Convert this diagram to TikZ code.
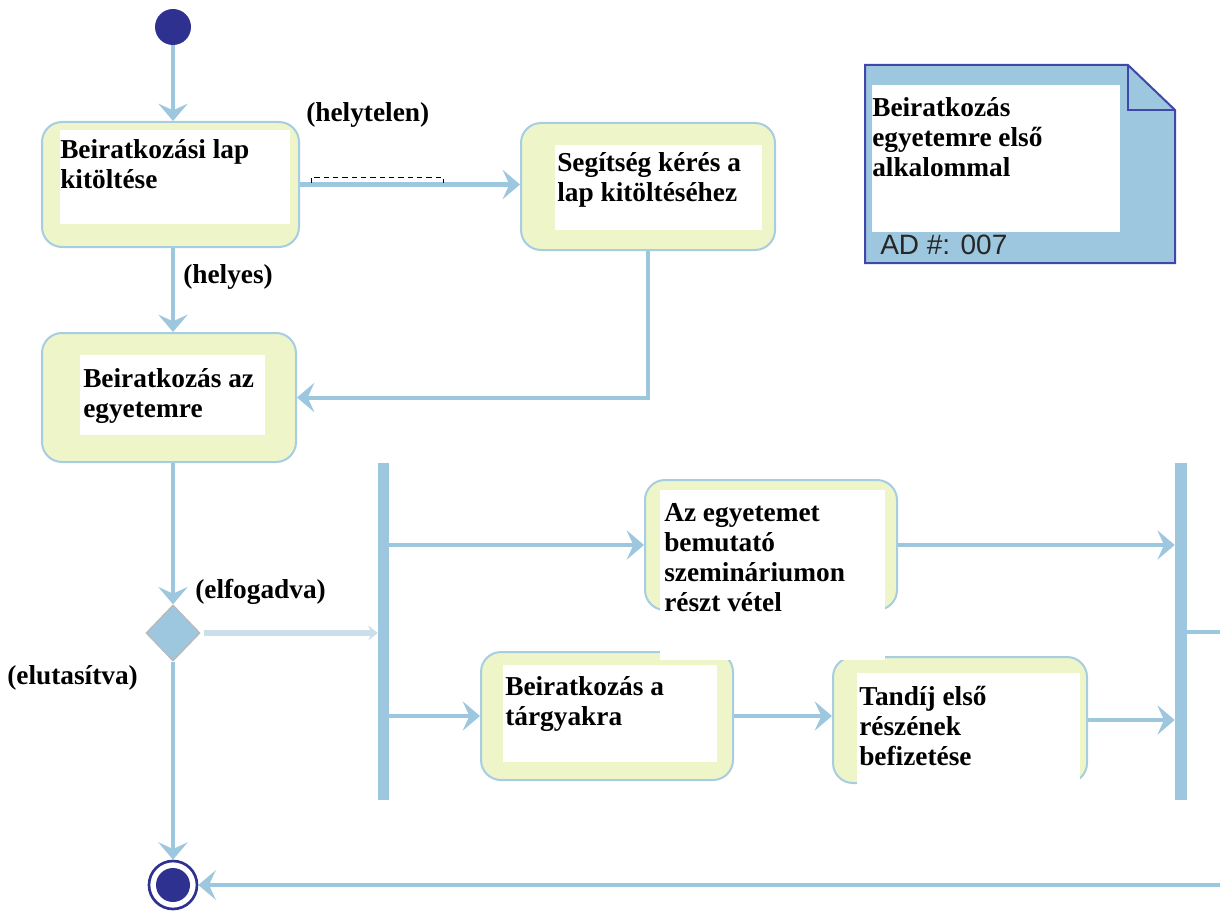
\documentclass[tikz,border=0pt]{standalone}
\usepackage{fontspec}
\setmainfont{Liberation Serif}
\setsansfont{Liberation Sans}
\usetikzlibrary{arrows.meta,shapes.geometric}
\definecolor{lb}{HTML}{9DC6DF}
\definecolor{boxfill}{HTML}{EEF5C9}
\definecolor{boxline}{HTML}{A6CDE2}
\definecolor{navy}{HTML}{2E3190}
\definecolor{notel}{HTML}{3F48A8}
\definecolor{pale}{HTML}{CADFEA}
\newcommand\pxu{0.75pt}
\begin{document}
\begin{tikzpicture}[x=0.75pt,y=-0.75pt,
 flow/.style={draw=lb, line width=3pt, -{Stealth[length=13pt,width=22pt,inset=5pt]}},
 act/.style={draw=boxline, fill=boxfill, line width=1.5pt, rounded corners=15pt, rectangle, inner sep=0},
 txt/.style={anchor=north west, align=left, font=\fontsize{20.5}{22.5}\selectfont\bfseries, inner sep=0},
 lbl/.style={anchor=north west, font=\fontsize{20.5}{22.5}\selectfont\bfseries, inner sep=0},
 bar/.style={fill=lb, draw=none, rectangle, inner sep=0},
]
\useasboundingbox (0,0) rectangle (1220,913);

% initial / final
\node[circle, fill=navy, minimum size=36*\pxu, inner sep=0] (start) at (173,27) {};
\node[circle, draw=navy, line width=2pt, minimum size=48*\pxu, inner sep=0] (end) at (173,885) {};
\node[circle, fill=navy, minimum size=34*\pxu, inner sep=0] (endin) at (end) {};

% activities
\node[act, minimum width=257*\pxu, minimum height=125*\pxu] (a1) at (170.5,184.5) {};
\fill[white] (60,130) rectangle (290,224);
\node[txt] (t1) at (60,139) {Beiratkozási lap\\kitöltése};

\node[act, minimum width=254*\pxu, minimum height=127*\pxu] (a2) at (648,186.5) {};
\fill[white] (555,145) rectangle (762,230);
\node[txt] (t2) at (557,152) {Segítség kérés a\\lap kitöltéséhez};

\node[act, minimum width=254*\pxu, minimum height=129*\pxu] (a3) at (169,397.5) {};
\fill[white] (80,355) rectangle (265,435);
\node[txt] (t3) at (83,368) {Beiratkozás az\\egyetemre};

\node[act, minimum width=252*\pxu, minimum height=128*\pxu] (a5) at (607,716) {};
\fill[white] (503,665) rectangle (717,762);
\node[txt] (t5) at (505,676) {Beiratkozás a\\tárgyakra};

\node[act, minimum width=254*\pxu, minimum height=126*\pxu] (a6) at (960,720) {};
\fill[white] (857,673) rectangle (1080,790);
\node[txt] (t6) at (859,686) {Tandíj első\\részének\\befizetése};

\node[act, minimum width=252*\pxu, minimum height=130*\pxu] (a4) at (771,545) {};
\fill[white] (660,490) rectangle (885,660);
\node[txt] (t4) at (664,503) {Az egyetemet\\bemutató\\szemináriumon\\részt vétel};

% decision and bars
\node[diamond, fill=lb, draw=gray!55, line width=1pt, minimum width=54*\pxu, minimum height=56*\pxu, inner sep=0] (dec) at (173,633) {};
\node[bar, minimum width=11*\pxu, minimum height=337*\pxu] (fork) at (383.5,631.5) {};
\node[bar, minimum width=12*\pxu, minimum height=337*\pxu] (join) at (1181,631.5) {};

% note
\filldraw[fill=lb, draw=notel, line width=1.5pt] (865,65) -- (1128,65) -- (1175,110) -- (1175,263) -- (865,263) -- cycle;
\draw[notel, line width=1.5pt] (1128,65) -- (1128,110) -- (1175,110);
\fill[white] (872,85) rectangle (1120,232);
\node[txt] (nt) at (872,97) {Beiratkozás\\egyetemre első\\alkalommal};
\node[anchor=north west, inner sep=0, font=\sffamily\fontsize{21}{24}\selectfont, text=black!85] (ad) at (880,235) {AD \#: 007};

% connectors
\draw[flow] (start) -- (a1.north -| start);
\draw[flow] (a1.east) -- (a2.west |- a1.east);
\draw[flow] (a1.south -| start) -- (a3.north -| start);
\draw[flow] (a2.south) -- (a2.south |- a3.east) -- (a3.east);
\draw[flow] (a3.south -| start) -- (dec);
\draw[draw=pale, line width=4pt, -{Stealth[length=7pt,width=11pt]}] ([xshift=3*\pxu]dec.east) -- (fork.west |- dec.east);
\draw[flow] (dec) -- (end);
\draw[flow] (fork.east |- a4.west) -- (a4.west);
\draw[flow] (a4.east) -- (join.west |- a4.east);
\draw[flow] (fork.east |- a5.west) -- (a5.west);
\draw[flow] (a5.east) -- (a6.west |- a5.east);
\draw[flow] (a6.east) -- (join.west |- a6.east);
\coordinate (o1) at (1220,632);
\coordinate (o2) at (1220,885);
\draw[lb, line width=3pt] (join.east |- o1) -- (o1);
\draw[flow] (o2) -- (end.east);

% labels
\node[lbl] (l1) at (306,102) {(helytelen)};
\draw[black, line width=0.7pt, dash pattern=on 4pt off 3pt] (311,183) -- (311,177) -- (443,177) -- (443,183);
\node[lbl] (l2) at (183,264) {(helyes)};
\node[lbl] (l3) at (195,579) {(elfogadva)};
\node[lbl] (l4) at (7,665) {(elutasítva)};
\end{tikzpicture}
\end{document}
